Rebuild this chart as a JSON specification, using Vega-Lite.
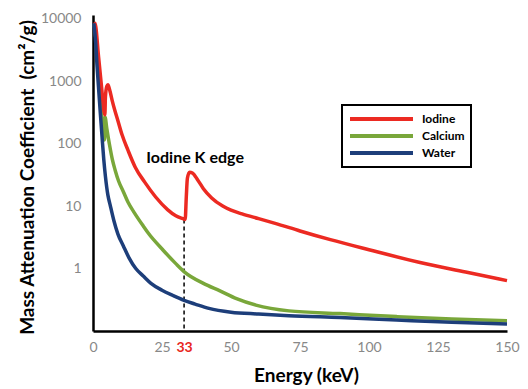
{
  "$schema": "https://vega.github.io/schema/vega-lite/v6.json",
  "width": 414,
  "height": 316,
  "autosize": "none",
  "padding": {"left": 93, "top": 15, "right": 21, "bottom": 58},
  "background": "white",
  "config": {
    "view": {"stroke": null},
    "font": "Lato",
    "axis": {"grid": false, "ticks": false, "tickSize": 0, "domainColor": "black", "domainWidth": 2.5, "labelFont": "Lato", "labelFontSize": 14, "labelColor": "#888888", "titleFont": "Lato", "titleFontSize": 19, "titleFontWeight": "bold", "titleColor": "black"}
  },
  "datasets": {
    "curves": [
      {"E": 0.5, "mu": 8800, "material": "Iodine"},
      {"E": 1.0, "mu": 7500, "material": "Iodine"},
      {"E": 2.0, "mu": 2500, "material": "Iodine"},
      {"E": 3.0, "mu": 900, "material": "Iodine"},
      {"E": 4.3, "mu": 290, "material": "Iodine"},
      {"E": 4.5, "mu": 560, "material": "Iodine"},
      {"E": 5.0, "mu": 830, "material": "Iodine"},
      {"E": 5.4, "mu": 880, "material": "Iodine"},
      {"E": 6.0, "mu": 740, "material": "Iodine"},
      {"E": 7.0, "mu": 480, "material": "Iodine"},
      {"E": 8.0, "mu": 330, "material": "Iodine"},
      {"E": 9.0, "mu": 235, "material": "Iodine"},
      {"E": 10.5, "mu": 140, "material": "Iodine"},
      {"E": 12.7, "mu": 78, "material": "Iodine"},
      {"E": 15.3, "mu": 42, "material": "Iodine"},
      {"E": 18.8, "mu": 24, "material": "Iodine"},
      {"E": 22.7, "mu": 14, "material": "Iodine"},
      {"E": 27.0, "mu": 8.8, "material": "Iodine"},
      {"E": 30.0, "mu": 7.0, "material": "Iodine"},
      {"E": 33.0, "mu": 6.2, "material": "Iodine"},
      {"E": 33.4, "mu": 6.1, "material": "Iodine"},
      {"E": 33.8, "mu": 14, "material": "Iodine"},
      {"E": 34.2, "mu": 28, "material": "Iodine"},
      {"E": 35.0, "mu": 35, "material": "Iodine"},
      {"E": 36.0, "mu": 34, "material": "Iodine"},
      {"E": 38.0, "mu": 26, "material": "Iodine"},
      {"E": 40.0, "mu": 19, "material": "Iodine"},
      {"E": 43.0, "mu": 13.5, "material": "Iodine"},
      {"E": 47.0, "mu": 10, "material": "Iodine"},
      {"E": 50.0, "mu": 8.6, "material": "Iodine"},
      {"E": 54.0, "mu": 7.5, "material": "Iodine"},
      {"E": 60.0, "mu": 6.3, "material": "Iodine"},
      {"E": 66.0, "mu": 5.3, "material": "Iodine"},
      {"E": 75.0, "mu": 4.0, "material": "Iodine"},
      {"E": 86.0, "mu": 2.9, "material": "Iodine"},
      {"E": 100.0, "mu": 2.0, "material": "Iodine"},
      {"E": 118.5, "mu": 1.25, "material": "Iodine"},
      {"E": 135.0, "mu": 0.88, "material": "Iodine"},
      {"E": 150.0, "mu": 0.64, "material": "Iodine"},
      {"E": 0.4, "mu": 8300, "material": "Calcium"},
      {"E": 1.0, "mu": 5000, "material": "Calcium"},
      {"E": 2.0, "mu": 1200, "material": "Calcium"},
      {"E": 3.0, "mu": 330, "material": "Calcium"},
      {"E": 4.2, "mu": 115, "material": "Calcium"},
      {"E": 4.35, "mu": 268, "material": "Calcium"},
      {"E": 5.0, "mu": 175, "material": "Calcium"},
      {"E": 6.0, "mu": 95, "material": "Calcium"},
      {"E": 7.0, "mu": 56, "material": "Calcium"},
      {"E": 8.0, "mu": 38, "material": "Calcium"},
      {"E": 9.3, "mu": 25, "material": "Calcium"},
      {"E": 11.0, "mu": 17, "material": "Calcium"},
      {"E": 12.7, "mu": 11.5, "material": "Calcium"},
      {"E": 15.0, "mu": 7.8, "material": "Calcium"},
      {"E": 18.2, "mu": 4.8, "material": "Calcium"},
      {"E": 20.0, "mu": 3.7, "material": "Calcium"},
      {"E": 25.5, "mu": 1.95, "material": "Calcium"},
      {"E": 30.0, "mu": 1.2, "material": "Calcium"},
      {"E": 33.3, "mu": 0.87, "material": "Calcium"},
      {"E": 40.0, "mu": 0.58, "material": "Calcium"},
      {"E": 46.0, "mu": 0.44, "material": "Calcium"},
      {"E": 52.0, "mu": 0.33, "material": "Calcium"},
      {"E": 59.0, "mu": 0.26, "material": "Calcium"},
      {"E": 71.0, "mu": 0.21, "material": "Calcium"},
      {"E": 89.5, "mu": 0.19, "material": "Calcium"},
      {"E": 110.0, "mu": 0.17, "material": "Calcium"},
      {"E": 130.0, "mu": 0.155, "material": "Calcium"},
      {"E": 150.0, "mu": 0.146, "material": "Calcium"},
      {"E": 0.3, "mu": 8500, "material": "Water"},
      {"E": 1.0, "mu": 4000, "material": "Water"},
      {"E": 1.45, "mu": 1800, "material": "Water"},
      {"E": 2.0, "mu": 800, "material": "Water"},
      {"E": 2.7, "mu": 290, "material": "Water"},
      {"E": 3.3, "mu": 125, "material": "Water"},
      {"E": 3.9, "mu": 56, "material": "Water"},
      {"E": 4.5, "mu": 30, "material": "Water"},
      {"E": 5.4, "mu": 15, "material": "Water"},
      {"E": 6.2, "mu": 10.5, "material": "Water"},
      {"E": 7.5, "mu": 6.0, "material": "Water"},
      {"E": 9.0, "mu": 3.6, "material": "Water"},
      {"E": 11.0, "mu": 2.3, "material": "Water"},
      {"E": 13.0, "mu": 1.5, "material": "Water"},
      {"E": 15.5, "mu": 1.0, "material": "Water"},
      {"E": 18.2, "mu": 0.76, "material": "Water"},
      {"E": 21.0, "mu": 0.58, "material": "Water"},
      {"E": 25.0, "mu": 0.45, "material": "Water"},
      {"E": 29.0, "mu": 0.37, "material": "Water"},
      {"E": 33.0, "mu": 0.31, "material": "Water"},
      {"E": 37.0, "mu": 0.27, "material": "Water"},
      {"E": 42.0, "mu": 0.23, "material": "Water"},
      {"E": 50.0, "mu": 0.2, "material": "Water"},
      {"E": 60.0, "mu": 0.187, "material": "Water"},
      {"E": 71.0, "mu": 0.176, "material": "Water"},
      {"E": 89.5, "mu": 0.164, "material": "Water"},
      {"E": 110.0, "mu": 0.15, "material": "Water"},
      {"E": 130.0, "mu": 0.138, "material": "Water"},
      {"E": 150.0, "mu": 0.13, "material": "Water"}
    ],
    "edge": [{"E": 33, "top": 6.1, "bottom": 0.1}],
    "note": [{"E": 37, "mu": 58, "label": "Iodine K edge"}]
  },
  "layer": [
    {
      "data": {"name": "edge"},
      "mark": {"type": "rule", "color": "black", "strokeWidth": 1.5, "strokeDash": [4, 3]},
      "encoding": {
        "x": {"field": "E", "type": "quantitative", "scale": {"domain": [0, 150], "nice": false}},
        "y": {"field": "top", "type": "quantitative", "scale": {"type": "log", "domain": [0.1, 11500], "nice": false}},
        "y2": {"field": "bottom"}
      }
    },
    {
      "data": {"name": "curves"},
      "transform": [{"filter": "datum.material === 'Calcium'"}],
      "mark": {"type": "line", "strokeWidth": 3.5, "interpolate": "monotone"},
      "encoding": {
        "x": {"field": "E", "type": "quantitative"},
        "y": {"field": "mu", "type": "quantitative"},
        "color": {"field": "material", "type": "nominal"}
      }
    },
    {
      "data": {"name": "curves"},
      "transform": [{"filter": "datum.material === 'Iodine'"}],
      "mark": {"type": "line", "strokeWidth": 3.5, "interpolate": "monotone"},
      "encoding": {
        "x": {"field": "E", "type": "quantitative"},
        "y": {"field": "mu", "type": "quantitative"},
        "color": {"field": "material", "type": "nominal"}
      }
    },
    {
      "data": {"name": "curves"},
      "transform": [{"filter": "datum.material === 'Water'"}],
      "mark": {"type": "line", "strokeWidth": 3.5, "interpolate": "monotone"},
      "encoding": {
        "x": {"field": "E", "type": "quantitative"},
        "y": {"field": "mu", "type": "quantitative"},
        "color": {"field": "material", "type": "nominal"}
      }
    },
    {
      "data": {"name": "note"},
      "mark": {"type": "text", "font": "Lato", "fontSize": 16, "fontWeight": "bold", "color": "black", "align": "center", "baseline": "middle"},
      "encoding": {
        "x": {"field": "E", "type": "quantitative"},
        "y": {"field": "mu", "type": "quantitative"},
        "text": {"field": "label"}
      }
    }
  ],
  "resolve": {"scale": {"x": "shared", "y": "shared"}},
  "encoding": {
    "x": {
      "type": "quantitative",
      "axis": {
        "title": "Energy (keV)",
        "values": [0, 25, 33, 50, 75, 100, 125, 150],
        "labelOverlap": false,
        "labelFlush": false,
        "labelPadding": 9,
        "labelColor": {"condition": {"test": "datum.value === 33", "value": "#e8261e"}, "value": "#888888"},
        "labelFontWeight": {"condition": {"test": "datum.value === 33", "value": "bold"}, "value": "normal"},
        "titleBaseline": "alphabetic",
        "titleX": 213,
        "titleY": 50
      }
    },
    "y": {
      "type": "quantitative",
      "axis": {
        "title": "Mass Attenuation Coefficient\u00a0\u00a0(cm²/g)",
        "values": [1, 10, 100, 1000, 10000],
        "format": "d",
        "labelPadding": 12,
        "labelFlush": false,
        "titleBaseline": "alphabetic",
        "titleX": -60,
        "titleY": 162
      }
    },
    "color": {
      "type": "nominal",
      "scale": {"domain": ["Iodine", "Calcium", "Water"], "range": ["#ec2a22", "#79a73a", "#1d3e7a"]},
      "legend": {
        "title": null,
        "orient": "none",
        "legendX": 249,
        "legendY": 90,
        "symbolType": "stroke",
        "symbolSize": 3969,
        "symbolStrokeWidth": 4,
        "clipHeight": 16,
        "rowPadding": 1,
        "labelFont": "Lato",
        "labelFontSize": 12,
        "labelFontWeight": "bold",
        "labelColor": "black",
        "labelOffset": 7,
        "padding": 6,
        "strokeColor": "black",
        "encode": {"legend": {"update": {"strokeWidth": {"value": 2}}}}
      }
    }
  }
}
